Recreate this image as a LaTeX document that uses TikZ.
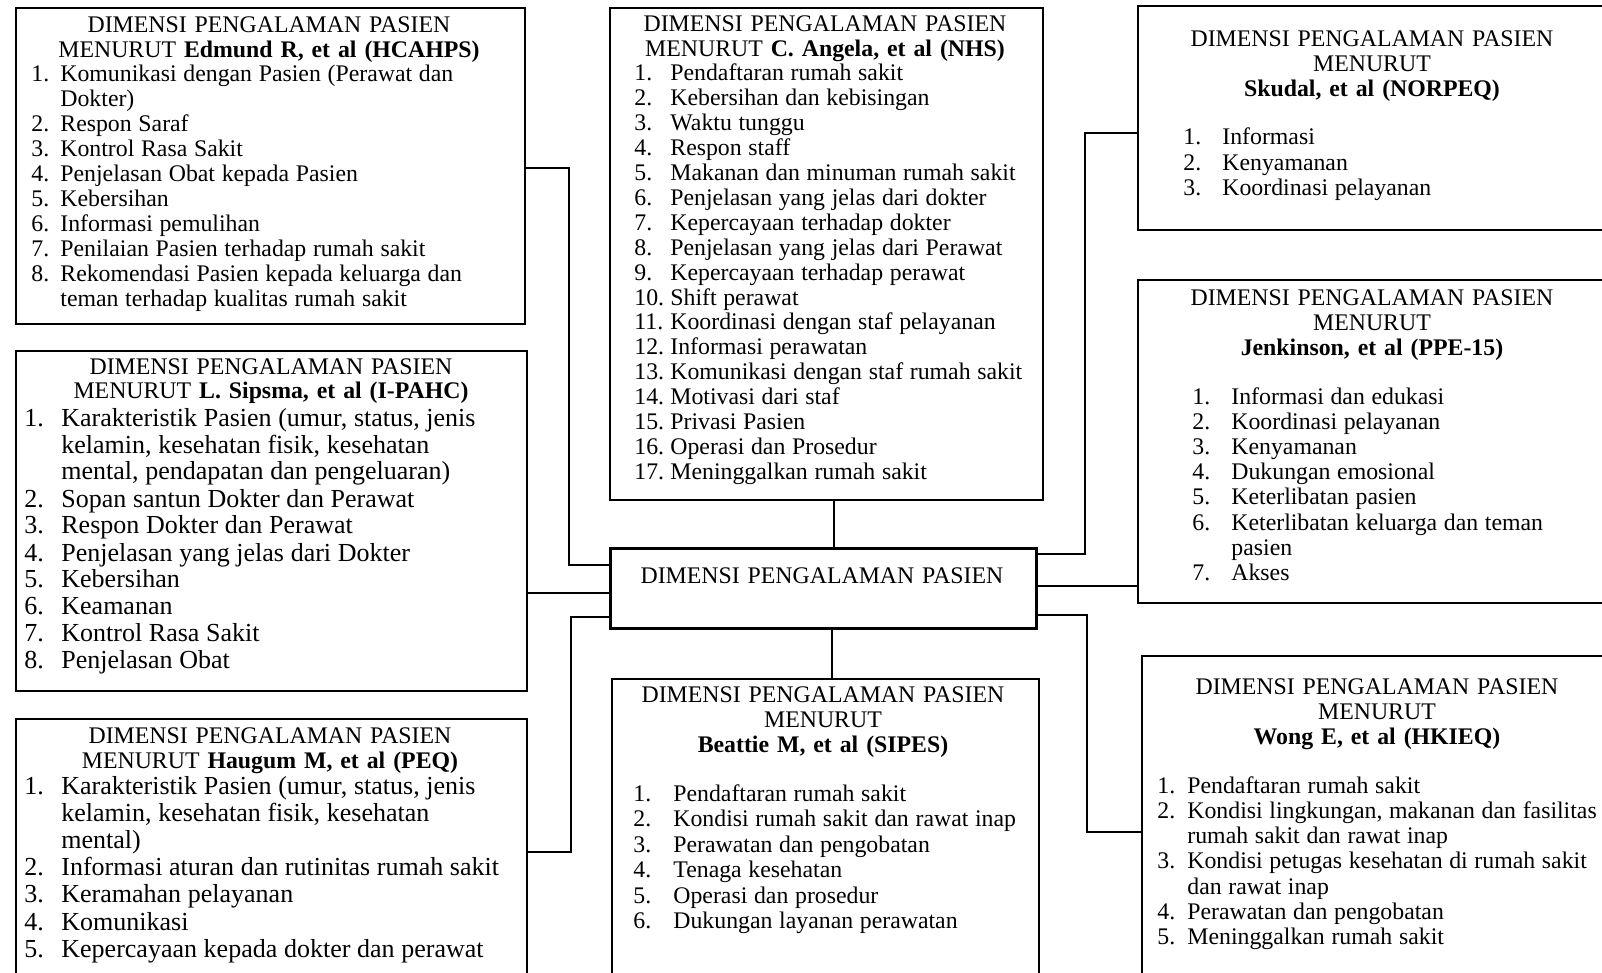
\documentclass[tikz,border=0pt]{standalone}
\usepackage{fontspec}
\setmainfont{Liberation Serif}
\usetikzlibrary{calc}

\tikzstyle{panel}=[draw,line width=0.8pt,anchor=north west,inner sep=0pt]
\tikzstyle{hub}=[draw,line width=1.5pt,anchor=north west,inner sep=0pt]
\tikzstyle{head}=[anchor=base,inner sep=0pt,text width=230pt,align=center,font=\fontsize{11.9pt}{12.5pt}\selectfont]
\tikzstyle{items}=[anchor=base west,inner sep=0pt,text width=240pt]
\tikzstyle{link}=[draw,line width=1.4pt]

\newlength{\numw}
\newcommand{\itm}[2]{\hangindent=\numw\hangafter=1\noindent\makebox[\numw][l]{#1}#2\par}
\newcommand{\lst}[3]{\fontsize{#2}{#3}\selectfont\raggedright\setlength{\numw}{#1}\ignorespaces}

\begin{document}
\begin{tikzpicture}[x=0.5pt,y=-0.5pt]

\useasboundingbox (0,0) rectangle (1602,973);

% boxes
\foreach \name/\x/\y/\w/\h in {hcahps/15/7/509/316, ipahc/15/350/511/340, peq/15/718/511/282,
    nhs/609/7/433/492, sipes/611/678/427/322,
    skudal/1137/5/478/224, jk/1137/279/478/323, wong/1141/655/474/345}
  \node[panel,minimum width=\w*0.5pt,minimum height=\h*0.5pt] (\name) at (\x,\y) {};

\node[hub,minimum width=426*0.5pt,minimum height=80*0.5pt] (central) at (609,547) {};
\node[head] (centralHd) at (822,583) {DIMENSI PENGALAMAN PASIEN};

% headers
\node[head] (hcahpsHd) at (269,33) {DIMENSI PENGALAMAN PASIEN\\MENURUT \textbf{Edmund R, et al (HCAHPS)}};
\node[head] (nhsHd) at (825,32) {DIMENSI PENGALAMAN PASIEN\\MENURUT \textbf{C. Angela, et al (NHS)}};
\node[head] (ipahcHd) at (271,374) {DIMENSI PENGALAMAN PASIEN\\MENURUT \textbf{L. Sipsma, et al (I-PAHC)}};
\node[head] (peqHd) at (270,743) {DIMENSI PENGALAMAN PASIEN\\MENURUT \textbf{Haugum M, et al (PEQ)}};
\node[head] (skudalHd) at (1372,47) {DIMENSI PENGALAMAN PASIEN\\MENURUT\\\textbf{Skudal, et al (NORPEQ)}};
\node[head] (jkHd) at (1372,306) {DIMENSI PENGALAMAN PASIEN\\MENURUT\\\textbf{Jenkinson, et al (PPE-15)}};
\node[head] (sipesHd) at (823,702) {DIMENSI PENGALAMAN PASIEN\\MENURUT\\\textbf{Beattie M, et al (SIPES)}};
\node[head] (wongHd) at (1377,694) {DIMENSI PENGALAMAN PASIEN\\MENURUT\\\textbf{Wong E, et al (HKIEQ)}};

% lists
\node[items] (hcahpsLs) at (31,82) {\lst{14.5pt}{11.9pt}{12.45pt}
  \itm{1.}{Komunikasi dengan Pasien (Perawat dan\newline Dokter)}
  \itm{2.}{Respon Saraf}
  \itm{3.}{Kontrol Rasa Sakit}
  \itm{4.}{Penjelasan Obat kepada Pasien}
  \itm{5.}{Kebersihan}
  \itm{6.}{Informasi pemulihan}
  \itm{7.}{Penilaian Pasien terhadap rumah sakit}
  \itm{8.}{Rekomendasi Pasien kepada keluarga dan\newline teman terhadap kualitas rumah sakit}};

\node[items] (nhsLs) at (634,81) {\lst{18pt}{11.9pt}{12.45pt}
  \itm{1.}{Pendaftaran rumah sakit}
  \itm{2.}{Kebersihan dan kebisingan}
  \itm{3.}{Waktu tunggu}
  \itm{4.}{Respon staff}
  \itm{5.}{Makanan dan minuman rumah sakit}
  \itm{6.}{Penjelasan yang jelas dari dokter}
  \itm{7.}{Kepercayaan terhadap dokter}
  \itm{8.}{Penjelasan yang jelas dari Perawat}
  \itm{9.}{Kepercayaan terhadap perawat}
  \itm{10.}{Shift perawat}
  \itm{11.}{Koordinasi dengan staf pelayanan}
  \itm{12.}{Informasi perawatan}
  \itm{13.}{Komunikasi dengan staf rumah sakit}
  \itm{14.}{Motivasi dari staf}
  \itm{15.}{Privasi Pasien}
  \itm{16.}{Operasi dan Prosedur}
  \itm{17.}{Meninggalkan rumah sakit}};

\node[items] (ipahcLs) at (24,426) {\lst{18.5pt}{13pt}{13.5pt}
  \itm{1.}{Karakteristik Pasien (umur, status, jenis\newline kelamin, kesehatan fisik, kesehatan\newline mental, pendapatan dan pengeluaran)}
  \itm{2.}{Sopan santun Dokter dan Perawat}
  \itm{3.}{Respon Dokter dan Perawat}
  \itm{4.}{Penjelasan yang jelas dari Dokter}
  \itm{5.}{Kebersihan}
  \itm{6.}{Keamanan}
  \itm{7.}{Kontrol Rasa Sakit}
  \itm{8.}{Penjelasan Obat}};

\node[items] (peqLs) at (24,794) {\lst{18.5pt}{13pt}{13.6pt}
  \itm{1.}{Karakteristik Pasien (umur, status, jenis\newline kelamin, kesehatan fisik, kesehatan\newline mental)}
  \itm{2.}{Informasi aturan dan rutinitas rumah sakit}
  \itm{3.}{Keramahan pelayanan}
  \itm{4.}{Komunikasi}
  \itm{5.}{Kepercayaan kepada dokter dan perawat}};

\node[items] (skudalLs) at (1183,145) {\lst{19.5pt}{11.9pt}{12.75pt}
  \itm{1.}{Informasi}
  \itm{2.}{Kenyamanan}
  \itm{3.}{Koordinasi pelayanan}};

\node[items] (jkLs) at (1192,404) {\lst{19.5pt}{11.9pt}{12.6pt}
  \itm{1.}{Informasi dan edukasi}
  \itm{2.}{Koordinasi pelayanan}
  \itm{3.}{Kenyamanan}
  \itm{4.}{Dukungan emosional}
  \itm{5.}{Keterlibatan pasien}
  \itm{6.}{\makebox[181pt][s]{Keterlibatan keluarga dan teman}\newline pasien}
  \itm{7.}{Akses}};

\node[items] (sipesLs) at (633,801) {\lst{20pt}{11.9pt}{12.75pt}
  \itm{1.}{Pendaftaran rumah sakit}
  \itm{2.}{Kondisi rumah sakit dan rawat inap}
  \itm{3.}{Perawatan dan pengobatan}
  \itm{4.}{Tenaga kesehatan}
  \itm{5.}{Operasi dan prosedur}
  \itm{6.}{Dukungan layanan perawatan}};

\node[items] (wongLs) at (1157,793) {\lst{15pt}{11.9pt}{12.65pt}
  \itm{1.}{Pendaftaran rumah sakit}
  \itm{2.}{\makebox[205pt][s]{Kondisi lingkungan, makanan dan fasilitas}\newline rumah sakit dan rawat inap}
  \itm{3.}{\makebox[205pt][s]{Kondisi petugas kesehatan di rumah sakit}\newline dan rawat inap}
  \itm{4.}{Perawatan dan pengobatan}
  \itm{5.}{Meninggalkan rumah sakit}};

% connectors, left side
\draw[link] (hcahps.east |- 0,168) -| (569,565) -- (central.west |- 0,565);
\draw[link] (ipahc.east |- 0,593) -- (central.west |- 0,593);
\draw[link] (peq.east |- 0,852) -| (571,617) -- (central.west |- 0,617);
% top and bottom
\draw[link] (nhs.south -| 834,0) -- (central.north -| 834,0);
\draw[link] (central.south -| 832,0) -- (sipes.north -| 832,0);
% right side
\draw[link] (central.east |- 0,554) -| (1085,133) -- (skudal.west |- 0,133);
\draw[link] (central.east |- 0,586) -- (jk.west |- 0,586);
\draw[link] (central.east |- 0,615) -| (1087,832) -- (wong.west |- 0,832);

\end{tikzpicture}
\end{document}
